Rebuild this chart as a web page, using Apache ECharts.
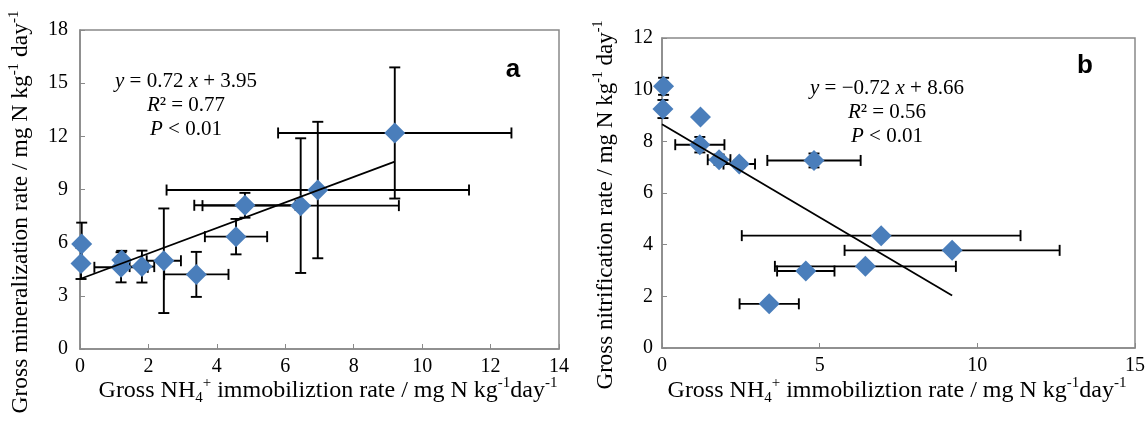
<!DOCTYPE html>
<html><head><meta charset="utf-8">
<script src="https://cdn.jsdelivr.net/npm/echarts/dist/echarts.min.js"></script>
<style>html,body{margin:0;padding:0;background:#fff;} #c{width:1146px;height:423px;}</style>
</head><body><div id="c"></div>
<script>
// Shared x: gross NH4+ immobilization rate (mean and SD)
const immobX    = [0.05, 0.03, 1.22, 1.20, 1.81, 2.45, 3.40, 4.56, 4.82, 6.45, 6.95, 9.20];
const immobXErr = [0.05, 0.03, 0.10, 0.78, 0.36, 0.50, 0.94, 0.91, 1.48, 2.87, 4.42, 3.41];
// Panel a: gross mineralization rate
const mineralY    = [5.93, 4.83, 5.02, 4.61, 4.65, 4.98, 4.21, 6.34, 8.11, 8.09, 8.97, 12.19];
const mineralYErr = [1.20, 0.88, 0.52, 0.85, 0.90, 2.95, 1.27, 1.00, 0.70, 3.80, 3.85, 3.70];
// Panel b: gross nitrification rate
const nitrifY    = [10.13, 9.25, 8.94, 7.87, 7.29, 7.12, 1.71, 2.98, 7.26, 3.16, 4.35, 3.78];
const nitrifYErr = [0.33, 0.35, 0.15, 0.30, 0.20, 0.15, 0.10, 0.10, 0.27, 0.10, 0.10, 0.10];
// Regression fits
const fitA = [0.72, 3.95];
const fitB = [-0.72, 8.66];
const ticksA = {xMax: 14, xStep: 2, yMax: 18, yStep: 3};
const ticksB = {xMax: 15, xStep: 5, yMax: 12, yStep: 2};

const SERIF = "'Liberation Serif', 'Times New Roman', serif";
const BLUE = '#4a7ebb';
const GRAY = '#898989';

function pts(ys){ return immobX.map((x,i)=>[x, ys[i]]); }
function errs(ys, ye){ return immobX.map((x,i)=>[x, ys[i], immobXErr[i], ye[i]]); }
function fitLine(f){
  const x0 = 0, x1 = Math.max(...immobX);
  return [[x0, f[0]*x0+f[1]], [x1, f[0]*x1+f[1]]];
}
function renderErr(params, api){
  const x = api.value(0), y = api.value(1), xe = api.value(2), ye = api.value(3);
  const st = {stroke:'#000', lineWidth:1.9};
  const cap = 5.5;
  const ch = [];
  if (xe > 0){
    const l = api.coord([x-xe, y]), r = api.coord([x+xe, y]);
    ch.push({type:'line', shape:{x1:l[0],y1:l[1],x2:r[0],y2:r[1]}, style:st});
    ch.push({type:'line', shape:{x1:l[0],y1:l[1]-cap,x2:l[0],y2:l[1]+cap}, style:st});
    ch.push({type:'line', shape:{x1:r[0],y1:r[1]-cap,x2:r[0],y2:r[1]+cap}, style:st});
  }
  if (ye > 0){
    const t = api.coord([x, y+ye]), b = api.coord([x, y-ye]);
    ch.push({type:'line', shape:{x1:t[0],y1:t[1],x2:b[0],y2:b[1]}, style:st});
    ch.push({type:'line', shape:{x1:t[0]-cap,y1:t[1],x2:t[0]+cap,y2:t[1]}, style:st});
    ch.push({type:'line', shape:{x1:b[0]-cap,y1:b[1],x2:b[0]+cap,y2:b[1]}, style:st});
  }
  return {type:'group', children:ch};
}

function richFor(sz){
  const s = Math.round(sz*0.63);
  return {
    n:   {fontFamily:SERIF, fontSize:sz, lineHeight:sz+6, fill:'#000'},
    sup: {fontFamily:SERIF, fontSize:s, verticalAlign:'top', lineHeight:sz+6, fill:'#000'},
    sub: {fontFamily:SERIF, fontSize:s, verticalAlign:'bottom', lineHeight:sz-2, fill:'#000'}
  };
}
const xName = '{n|Gross NH}{sub|4}{sup|+}{n| immobiliztion rate / mg N kg}{sup|-1}{n|day}{sup|-1}';
const yNameA = '{n|Gross mineralization rate / mg N kg}{sup|-1}{n| day}{sup|-1}';
const yNameB = '{n|Gross nitrification rate / mg N kg}{sup|-1}{n| day}{sup|-1}';

function title(text, x, y, sz, rot){
  return {type:'text', x, y, rotation: rot ? Math.PI/2 : 0, z:10,
    style:{text, rich:richFor(sz), align:'center', verticalAlign:'middle', font:sz+'px '+SERIF, fill:'#000'}};
}

function xAxis(idx, t){
  return {type:'value', gridIndex:idx, min:0, max:t.xMax, interval:t.xStep,
    axisLine:{show:true, lineStyle:{color:GRAY, width:1.5}},
    axisTick:{show:true, inside:true, length:5, lineStyle:{color:GRAY}},
    axisLabel:{fontFamily:SERIF, fontSize:20, color:'#000', margin:8},
    splitLine:{show:false}};
}
function yAxis(idx, t, margin){
  return {type:'value', gridIndex:idx, min:0, max:t.yMax, interval:t.yStep,
    axisLine:{show:true, lineStyle:{color:GRAY, width:1.5}},
    axisTick:{show:true, inside:true, length:5, lineStyle:{color:GRAY}},
    axisLabel:{fontFamily:SERIF, fontSize:20, color:'#000', margin},
    splitLine:{show:false}};
}
function annot(cx, y0, lines){
  return lines.map((s,i)=>({type:'text', x:cx, y:y0+i*24,
    style:{text:s, align:'center', verticalAlign:'middle', font:'21px '+SERIF, fill:'#000',
      rich:{i:{fontStyle:'italic', fontFamily:SERIF, fontSize:21, fill:'#000'}}}, z:10}));
}

const chart = echarts.init(document.getElementById('c'), null, {renderer:'canvas'});
chart.setOption({
  animation:false,
  backgroundColor:'#fff',
  grid:[
    {left:80, top:30, width:479, height:319, show:true, borderColor:GRAY, borderWidth:1.5, containLabel:false, outerBoundsMode:'none'},
    {left:662, top:38, width:473, height:310, show:true, borderColor:GRAY, borderWidth:1.5, containLabel:false, outerBoundsMode:'none'}
  ],
  xAxis:[xAxis(0, ticksA), xAxis(1, ticksB)],
  yAxis:[yAxis(0, ticksA, 12), yAxis(1, ticksB, 9)],
  series:[
    {type:'custom', xAxisIndex:0, yAxisIndex:0, data:errs(mineralY, mineralYErr), renderItem:renderErr, z:1, clip:false},
    {type:'scatter', xAxisIndex:0, yAxisIndex:0, data:pts(mineralY), symbol:'diamond', symbolSize:21, itemStyle:{color:BLUE, opacity:1}, z:2},
    {type:'line', xAxisIndex:0, yAxisIndex:0, data:fitLine(fitA), symbol:'none', lineStyle:{color:'#000', width:1.8}, z:3},
    {type:'custom', xAxisIndex:1, yAxisIndex:1, data:errs(nitrifY, nitrifYErr), renderItem:renderErr, z:1, clip:false},
    {type:'scatter', xAxisIndex:1, yAxisIndex:1, data:pts(nitrifY), symbol:'diamond', symbolSize:21, itemStyle:{color:BLUE, opacity:1}, z:2},
    {type:'line', xAxisIndex:1, yAxisIndex:1, data:fitLine(fitB), symbol:'none', lineStyle:{color:'#000', width:1.8}, z:3}
  ],
  graphic:[
    title(xName, 328, 391, 24, false),
    title(xName, 897, 391, 24, false),
    title(yNameA, 21, 212, 23.5, true),
    title(yNameB, 606, 205, 23, true),
    ...annot(186, 81, ['{i|y} = 0.72 {i|x} + 3.95', '{i|R}² = 0.77', '{i|P} < 0.01']),
    ...annot(887, 88, ['{i|y} = \u22120.72 {i|x} + 8.66', '{i|R}² = 0.56', '{i|P} < 0.01']),
    {type:'text', x:513, y:70, style:{text:'a', align:'center', verticalAlign:'middle', font:'bold 26px "Liberation Sans", Arial, sans-serif', fill:'#000'}, z:10},
    {type:'text', x:1085, y:66, style:{text:'b', align:'center', verticalAlign:'middle', font:'bold 26px "Liberation Sans", Arial, sans-serif', fill:'#000'}, z:10}
  ]
});
</script></body></html>
